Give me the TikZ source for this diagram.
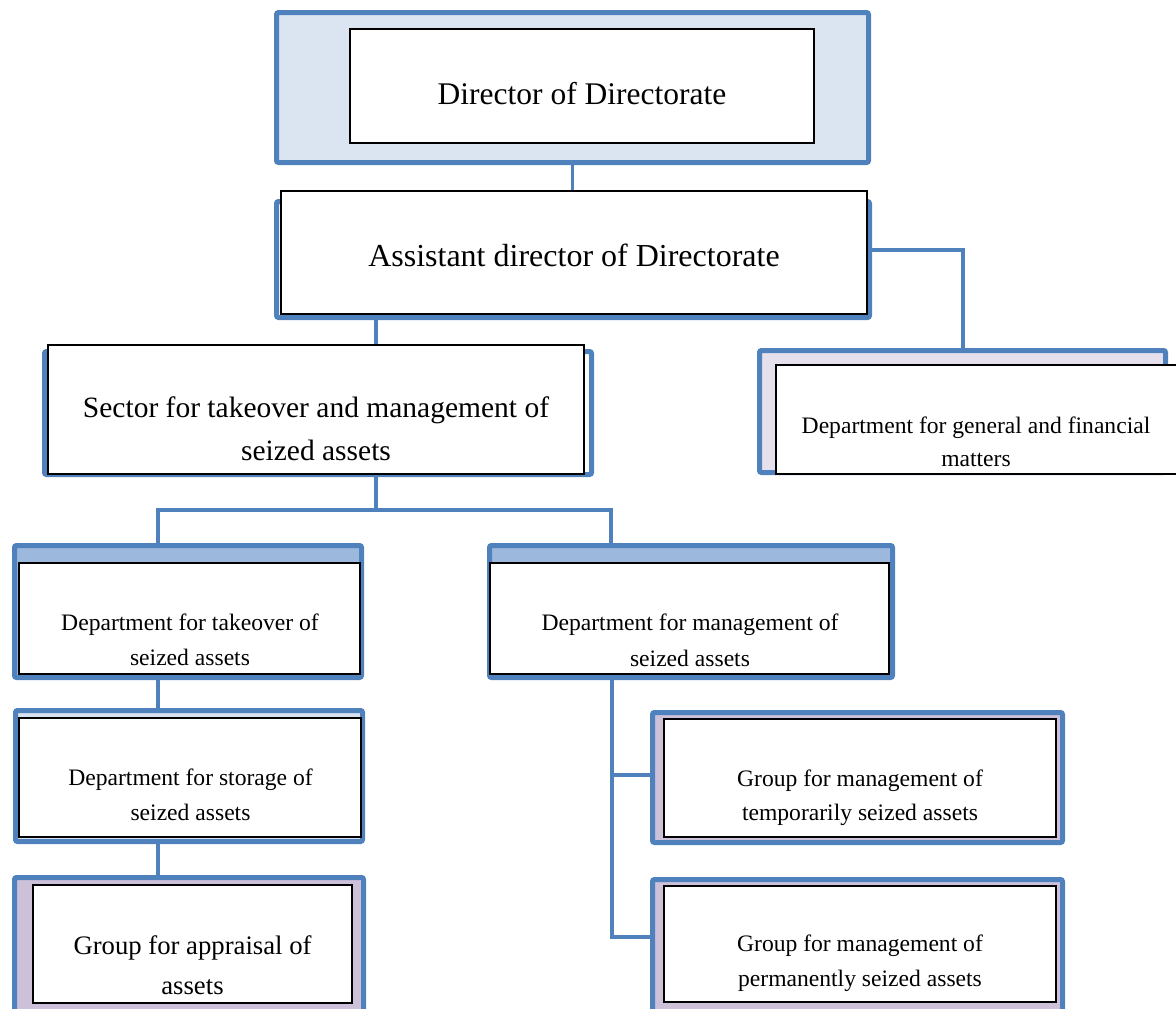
\documentclass[tikz,border=0pt]{standalone}
\usepackage{fontspec}
\setmainfont{Liberation Serif}
\definecolor{fb}{HTML}{4F81BD}
\definecolor{lb}{HTML}{DBE5F1}
\definecolor{lav}{HTML}{CCC1D9}
\definecolor{lavl}{HTML}{E6E0EC}
\definecolor{band}{HTML}{9CB9DD}
\definecolor{stf}{HTML}{D9E0EF}
\begin{document}
\begin{tikzpicture}[x=1pt,y=-1pt,
  frm/.style={draw=fb, line width=5pt, rounded corners=2pt, inner sep=0pt, rectangle},
  wbox/.style={draw=black, line width=1.3pt, fill=white, inner sep=0pt, rectangle},
  conn/.style={draw=fb, line width=3.2pt},
  txt/.style={align=center, inner sep=0pt}]
\useasboundingbox (0,0) rectangle (1176,1009);
\begin{scope}
\clip (0,0) rectangle (1176,1009);
\coordinate (j1) at (963,250);
\coordinate (j2) at (376,330);
\coordinate (bM) at (376,510);
\coordinate (bL) at (158,510);
\coordinate (bR) at (611,510);
\coordinate (t1) at (612,775);
\coordinate (t2) at (612,937);
% Director
\node[frm, fill=lb, minimum width=592pt, minimum height=150pt] (dirF) at (572.5,87.5) {};
\node[wbox, minimum width=464pt, minimum height=114pt] (dirW) at (582,86) {};
\node[txt, font=\fontsize{31.5}{45}\selectfont, anchor=base] (dirT) at (582,104.5) {Director of Directorate};
% Assistant
\node[frm, fill=white, minimum width=593pt, minimum height=116pt] (asstF) at (573,259.5) {};
\node[wbox, minimum width=586pt, minimum height=123pt] (asstW) at (574,252.5) {};
\node[txt, font=\fontsize{32}{46}\selectfont, anchor=base] (asstT) at (574,266) {Assistant director of Directorate};
% General
\node[frm, fill=lavl, minimum width=406pt, minimum height=122pt] (genF) at (962.5,411.5) {};
\node[wbox, minimum width=404pt, minimum height=109pt] (genW) at (978,419.5) {};
\node[txt, font=\fontsize{23.6}{33}\selectfont] (genT) at (976,443.5) {\strut Department for general and financial\\matters\strut};
% Sector
\node[frm, fill=white, minimum width=547pt, minimum height=123pt] (sectF) at (318,413) {};
\node[wbox, minimum width=536pt, minimum height=129pt] (sectW) at (316,409.5) {};
\node[txt, font=\fontsize{29.5}{43}\selectfont] (sectT) at (316,430.4) {\strut Sector for takeover and management of\\seized assets\strut};
% Takeover
\node[frm, fill=band, minimum width=347pt, minimum height=132pt] (takF) at (188,611.5) {};
\node[wbox, minimum width=341pt, minimum height=111pt] (takW) at (189.5,618.5) {};
\node[txt, font=\fontsize{23.6}{35}\selectfont] (takT) at (190,641) {\strut Department for takeover of\\seized assets\strut};
% Management
\node[frm, fill=band, minimum width=403pt, minimum height=132pt] (mgF) at (691,611.5) {};
\node[wbox, minimum width=399pt, minimum height=111pt] (mgW) at (689.5,618.5) {};
\node[txt, font=\fontsize{23.6}{36}\selectfont] (mgT) at (690,641.5) {\strut Department for management of\\seized assets\strut};
% Storage
\node[frm, fill=stf, minimum width=347pt, minimum height=131pt] (storF) at (189,776) {};
\node[wbox, minimum width=342pt, minimum height=119pt] (storW) at (190,777.5) {};
\node[txt, font=\fontsize{23.6}{35}\selectfont] (storT) at (190.5,796) {\strut Department for storage of\\seized assets\strut};
% Appraisal
\node[frm, fill=lav, minimum width=349pt, minimum height=135pt] (aprF) at (189,945) {};
\node[wbox, minimum width=319pt, minimum height=118pt] (aprW) at (192.5,944) {};
\node[txt, font=\fontsize{26.7}{40}\selectfont] (aprT) at (192.5,966.5) {\strut Group for appraisal of\\assets\strut};
% Temporary
\node[frm, fill=lav, minimum width=410pt, minimum height=130pt] (tempF) at (857.5,777.5) {};
\node[wbox, minimum width=392pt, minimum height=118pt] (tempW) at (860,778) {};
\node[txt, font=\fontsize{23.6}{34}\selectfont] (tempT) at (860,796.5) {\strut Group for management of\\temporarily seized assets\strut};
% Permanent
\node[frm, fill=lav, minimum width=410pt, minimum height=133pt] (permF) at (857.5,946) {};
\node[wbox, minimum width=392pt, minimum height=116pt] (permW) at (860,944) {};
\node[txt, font=\fontsize{23.6}{35}\selectfont] (permT) at (860,962) {\strut Group for management of\\permanently seized assets\strut};
% connectors
\draw[conn] (dirF.south) -- (dirF.south |- asstW.north);
\draw[conn] (asstF.east |- j1) -- (j1) -- (j1 |- genF.north);
\draw[conn] (asstF.south -| j2) -- (sectW.north -| j2);
\draw[conn] (sectW.south -| bM) -- (bM);
\draw[conn] (takF.north -| bL) -- (bL) -- (bR) -- (bR |- mgF.north);
\draw[conn] (takF.south -| bL) -- (storF.north -| bL);
\draw[conn] (storF.south -| bL) -- (aprF.north -| bL);
\draw[conn] (mgF.south -| t1) -- (t2) -- (t2 -| permF.west);
\draw[conn] (t1) -- (t1 -| tempF.west);
\end{scope}
\end{tikzpicture}
\end{document}
